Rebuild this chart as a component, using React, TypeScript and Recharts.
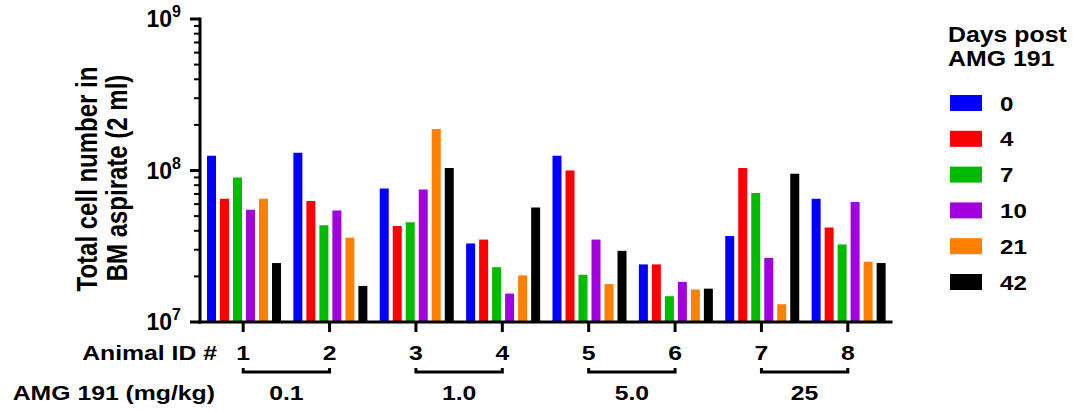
import { BarChart, Bar, XAxis, YAxis, Legend } from "recharts"

const FONT = '"Liberation Sans", Arial, sans-serif'

// animals on the x axis, grouped in pairs by dose
const animals = ["1", "2", "3", "4", "5", "6", "7", "8"]
const doses = ["0.1", "1.0", "5.0", "25"]

// days post AMG 191 and their colours
const days = ["0", "4", "7", "10", "21", "42"]
const colors = ["#0000ff", "#ff0000", "#00bb00", "#a300e0", "#ff8000", "#000000"]

// total cell number per animal, one array per day
const day0 = [1.25e8, 1.31e8, 7.6e7, 3.3e7, 1.25e8, 2.4e7, 3.7e7, 6.5e7]
const day4 = [6.5e7, 6.3e7, 4.3e7, 3.5e7, 1.0e8, 2.4e7, 1.04e8, 4.2e7]
const day7 = [9.0e7, 4.35e7, 4.55e7, 2.3e7, 2.05e7, 1.48e7, 7.1e7, 3.25e7]
const day10 = [5.5e7, 5.45e7, 7.5e7, 1.54e7, 3.5e7, 1.84e7, 2.65e7, 6.2e7]
const day21 = [6.5e7, 3.6e7, 1.88e8, 2.03e7, 1.78e7, 1.64e7, 1.31e7, 2.5e7]
const day42 = [2.45e7, 1.73e7, 1.04e8, 5.7e7, 2.95e7, 1.66e7, 9.5e7, 2.45e7]

// log axis ticks
const majorTicks = [1e7, 1e8, 1e9]
const minorTicks = [
  2e7, 3e7, 4e7, 5e7, 6e7, 7e7, 8e7, 9e7,
  2e8, 3e8, 4e8, 5e8, 6e8, 7e8, 8e8, 9e8,
]

const series = [day0, day4, day7, day10, day21, day42]
const data = animals.map((animal, i) => {
  const row: Record<string, string | number> = { animal }
  days.forEach((d, k) => {
    row["d" + d] = series[k][i]
  })
  return row
})

const W = 1073
const H = 412
const M = { top: 19, right: 182, left: 140, bottom: 0 }
const Y_W = 60
const AXIS_X = M.left + Y_W
const STEP = (W - M.right - AXIS_X) / animals.length

function Txt({ x, y, children, anchor = "middle", size = 21, sx = 1.18 }: any) {
  return (
    <text
      transform={`translate(${x},${y}) scale(${sx},1)`}
      textAnchor={anchor}
      fontSize={size}
      fontWeight="bold"
      fontFamily={FONT}
      fill="#000"
    >
      {children}
    </text>
  )
}

function CountTick(props: any) {
  const { y, payload } = props
  const v = payload.value
  const major = majorTicks.some((m) => Math.abs(m - v) < 1)
  if (!major) {
    return <rect x={AXIS_X - 6} y={y - 1} width={6} height={2} fill="#000" />
  }
  const exp = Math.round(Math.log10(v))
  return (
    <g>
      <rect x={AXIS_X - 10} y={y - 1.5} width={10} height={3} fill="#000" />
      <text x={AXIS_X - 19} y={y + 8} textAnchor="end" fontSize={23} fontWeight="bold" fontFamily={FONT} fill="#000">
        10
        <tspan fontSize={16} dy={-10}>
          {exp}
        </tspan>
      </text>
    </g>
  )
}

function AnimalTick(props: any) {
  const { x, y, payload, index } = props
  const pair = index % 2 === 0
  return (
    <g>
      <rect x={x - 1.5} y={y} width={3} height={10} fill="#000" />
      <Txt x={x} y={y + 38}>{payload.value}</Txt>
      {pair && (
        <g>
          <path
            d={`M${x},${y + 46} L${x},${y + 50} L${x + STEP},${y + 50} L${x + STEP},${y + 46}`}
            fill="none"
            stroke="#000"
            strokeWidth={3}
          />
          <Txt x={x + STEP / 2} y={y + 78}>{doses[index / 2]}</Txt>
        </g>
      )}
      {index === 0 && (
        <g>
          <Txt x={217} y={y + 38} anchor="end">Animal ID #</Txt>
          <Txt x={215} y={y + 78} anchor="end">AMG 191 (mg/kg)</Txt>
        </g>
      )}
    </g>
  )
}

function YLabel() {
  const style = { fontSize: 24, fontWeight: "bold" as const, fontFamily: FONT, fill: "#000" }
  return (
    <g>
      <text transform="translate(97,179) scale(1.2,1) rotate(-90)" textAnchor="middle" {...style}>
        Total cell number in
      </text>
      <text transform="translate(127,178) scale(1.2,1) rotate(-90)" textAnchor="middle" {...style}>
        BM aspirate (2 ml)
      </text>
    </g>
  )
}

function DaysLegend() {
  const ox = 940
  return (
    <svg width={133} height={310}>
      <g transform={`translate(${-ox},0)`}>
        <Txt x={948} y={41.5} anchor="start" size={22} sx={1.13}>Days post</Txt>
        <Txt x={948} y={66} anchor="start" size={22} sx={1.13}>AMG 191</Txt>
        {days.map((d, k) => {
          const cy = 103 + k * 35.8
          return (
            <g key={d}>
              <rect x={950} y={cy - 8} width={32} height={16} fill={colors[k]} />
              <Txt x={1000} y={cy + 7.5} anchor="start" size={21} sx={1.15}>{d}</Txt>
            </g>
          )
        })}
      </g>
    </svg>
  )
}

export default function App() {
  return (
    <div style={{ position: "absolute", left: 0, top: 0, background: "#fff" }}>
      <BarChart width={W} height={H} data={data} margin={M} barCategoryGap={7} barGap={4}>
        <XAxis
          dataKey="animal"
          height={90}
          interval={0}
          tickSize={0}
          tickMargin={0}
          tickLine={false}
          axisLine={{ stroke: "#000", strokeWidth: 3, strokeLinecap: "square" }}
          tick={(p: any) => <AnimalTick {...p} />}
        />
        <YAxis
          type="number"
          scale="log"
          domain={[1e7, 1e9]}
          allowDataOverflow
          ticks={[...majorTicks, ...minorTicks]}
          interval={0}
          width={Y_W}
          tickSize={0}
          tickMargin={0}
          tickLine={false}
          axisLine={{ stroke: "#000", strokeWidth: 3, strokeLinecap: "square" }}
          tick={(p: any) => <CountTick {...p} />}
          label={{ content: () => <YLabel /> }}
        />
        <Legend
          layout="horizontal"
          align="center"
          verticalAlign="middle"
          content={() => <DaysLegend />}
          wrapperStyle={{ left: 940, top: 0, width: 133, height: 310 }}
        />
        {days.map((d, k) => (
          <Bar key={d} dataKey={"d" + d} name={d} fill={colors[k]} isAnimationActive={false} />
        ))}
      </BarChart>
    </div>
  )
}
